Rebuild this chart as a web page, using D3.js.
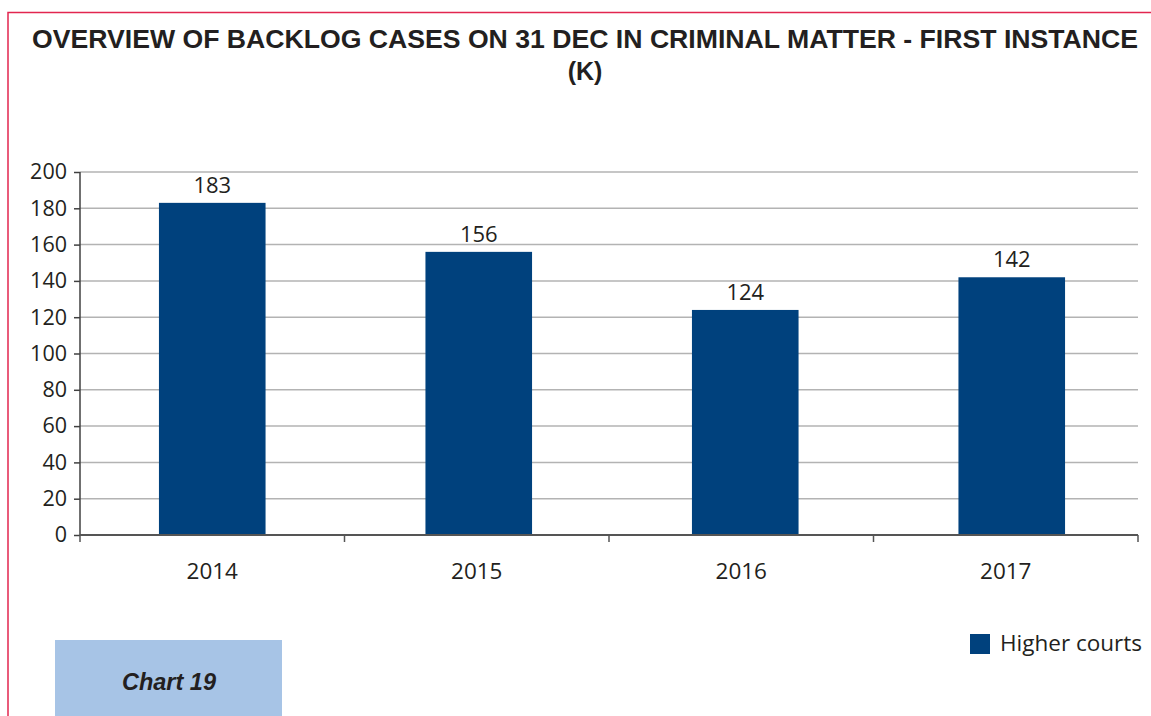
<!DOCTYPE html>
<html><head><meta charset="utf-8">
<script src="https://cdn.jsdelivr.net/npm/d3@7"></script>
<style>body{margin:0;background:#fff;} svg{display:block;}</style>
</head><body>
<svg id="c" width="1151" height="716"></svg>
<script>
const categories = ["2014","2015","2016","2017"];
const values = [183,156,124,142];
const yTicks = [0,20,40,60,80,100,120,140,160,180,200];
const seriesName = "Higher courts";
const titleLines = ["OVERVIEW OF BACKLOG CASES ON 31 DEC IN CRIMINAL MATTER - FIRST INSTANCE","(K)"];
const chartLabel = "Chart 19";

const svg = d3.select("#c");
const pL=80, pR=1138, pT=172, pB=535;
// axis band (ticks & category labels)
const xa = d3.scaleBand().domain(categories).range([pL,pR]);
// bar placement band
const x = d3.scaleBand().domain(categories).range([79,1145]).paddingInner(0.6).paddingOuter(0.3);
const y = d3.scaleLinear().domain([0,200]).range([pB,pT]);
const txtFont = "Open Sans, Noto Sans, sans-serif";

// frame
svg.append("path").attr("d","M8,716 L8,12.5 L1151,12.5").attr("fill","none").attr("stroke","#e2264f").attr("stroke-width",1.5);

// title
svg.selectAll("text.title").data(titleLines).enter().append("text").attr("class","title")
  .attr("x",585).attr("y",(d,i)=>47.5+i*32).attr("text-anchor","middle")
  .attr("font-family","Liberation Sans, Arial, sans-serif").attr("font-weight","bold")
  .attr("font-size",25).attr("fill","#231f20")
  .each(function(d,i){ if(i===0){ d3.select(this).attr("textLength",1106).attr("lengthAdjust","spacingAndGlyphs"); } })
  .text(d=>d);

// grid
svg.append("g").selectAll("line").data(yTicks.filter(d=>d>0)).enter().append("line")
  .attr("x1",pL).attr("x2",pR).attr("y1",d=>y(d)).attr("y2",d=>y(d))
  .attr("stroke","#b3b3b3").attr("stroke-width",1.5);

// bars
svg.append("g").selectAll("rect").data(values).enter().append("rect")
  .attr("x",(d,i)=>x(categories[i])).attr("width",x.bandwidth())
  .attr("y",d=>y(d)).attr("height",d=>pB-y(d)).attr("fill","#00417d");

// value labels
svg.append("g").selectAll("text").data(values).enter().append("text")
  .attr("x",(d,i)=>x(categories[i])+x.bandwidth()/2).attr("y",d=>y(d)-10)
  .attr("text-anchor","middle").attr("font-family",txtFont)
  .attr("font-size",22).attr("fill","#231f20").text(d=>d);

// y axis
const yAxis = svg.append("g").attr("transform",`translate(${pL},0)`)
  .call(d3.axisLeft(y).tickValues(yTicks).tickSize(6).tickPadding(7));
yAxis.select(".domain").attr("stroke","#404040").attr("stroke-width",1.5).attr("d",`M0,${pT}V${pB}`);
yAxis.selectAll(".tick line").attr("stroke","#404040").attr("stroke-width",1.5);
yAxis.selectAll(".tick text").attr("font-family",txtFont).attr("font-size",21.5).attr("fill","#231f20");

// x axis
const tickPos = categories.map(c=>xa(c)).concat([pR]);
const xAxis = svg.append("g").attr("transform",`translate(0,${pB})`);
xAxis.append("line").attr("x1",pL).attr("x2",pR).attr("stroke","#555").attr("stroke-width",2);
xAxis.selectAll("line.t").data(tickPos).enter().append("line").attr("class","t")
  .attr("x1",d=>d).attr("x2",d=>d).attr("y1",0).attr("y2",7).attr("stroke","#555").attr("stroke-width",1.5);
xAxis.selectAll("text").data(categories).enter().append("text")
  .attr("x",d=>xa(d)+xa.bandwidth()/2).attr("y",44).attr("text-anchor","middle")
  .attr("font-family",txtFont).attr("font-size",22.5).attr("fill","#231f20").text(d=>d);

// legend
svg.append("rect").attr("x",970).attr("y",634).attr("width",20).attr("height",20).attr("fill","#00417d");
svg.append("text").attr("x",1000).attr("y",651).attr("font-family",txtFont)
  .attr("font-size",22.5).attr("fill","#231f20").text(seriesName);

// chart label box
svg.append("rect").attr("x",55).attr("y",640).attr("width",227).attr("height",76).attr("fill","#a7c4e6");
svg.append("text").attr("x",169).attr("y",690).attr("text-anchor","middle")
  .attr("font-family","Liberation Sans, Arial, sans-serif").attr("font-weight","bold").attr("font-style","italic")
  .attr("font-size",23.5).attr("fill","#231f20").text(chartLabel);
</script>
</body></html>
